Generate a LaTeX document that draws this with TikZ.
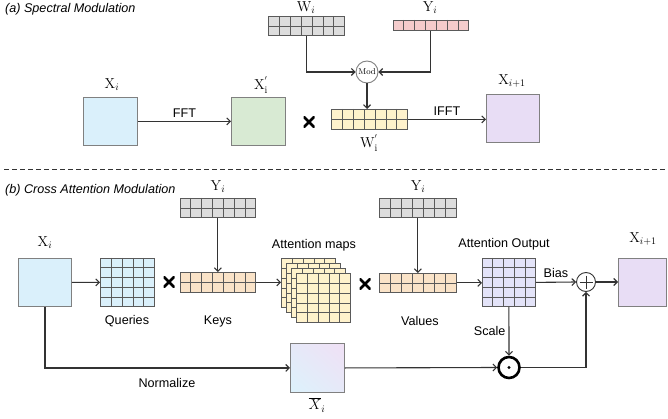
\documentclass[tikz,border=0pt]{standalone}
\usepackage{fontspec}
\newfontfamily\sansf{Liberation Sans}
\usetikzlibrary{calc,arrows.meta,shadings}
\definecolor{xblue}{HTML}{DAF0FB}
\definecolor{xgreen}{HTML}{D8EAD3}
\definecolor{xpurple}{HTML}{E8DDF5}
\definecolor{wgray}{HTML}{DDDDDD}
\definecolor{ypink}{HTML}{F4CCCC}
\definecolor{wyellow}{HTML}{FFF2CC}
\definecolor{peach}{HTML}{FAE3C8}
\definecolor{aolav}{HTML}{E3E3F8}
\definecolor{boxgray}{HTML}{808080}
\definecolor{cellline}{HTML}{5A5A5A}
\definecolor{linec}{HTML}{333333}
\definecolor{gbl1}{HTML}{DCF2FC}
\definecolor{gbl2}{HTML}{F0E0F5}
\definecolor{gblm}{HTML}{E6E9F8}
\tikzset{
  lbl/.style={font=\sansf\fontsize{12.6}{14}\selectfont, inner sep=1pt},
  ttl/.style={font=\sansf\itshape\fontsize{12.6}{14}\selectfont, anchor=west, inner sep=0pt},
  mlbl/.style={font=\fontsize{14.4}{16}\selectfont, inner sep=1pt},
  box/.style={draw=boxgray, line width=0.9pt, minimum width=54pt, minimum height=48pt, inner sep=0pt, anchor=north west},
  gb/.style={draw=cellline, line width=0.8pt, inner sep=0pt},
  gbl/.style={draw=cellline, line width=0.7pt},
  conn/.style={draw=linec, line width=1.1pt, -{Straight Barb[length=3.5pt,width=7pt]}},
  plainline/.style={draw=linec, line width=1.1pt},
  crossm/.style={minimum size=11pt, inner sep=0pt,
    path picture={\draw[line width=2.6pt,line cap=butt] (path picture bounding box.north west) -- (path picture bounding box.south east) (path picture bounding box.south west) -- (path picture bounding box.north east);}},
}
\newcommand\gridbox[8]{%
  \node[gb,fill=#8,minimum width=#4pt,minimum height=#5pt,anchor=north west] (#1) at (#2,#3) {};
  \pgfmathtruncatemacro\gbc{#6-1}%
  \foreach \k in {1,...,\gbc}{\draw[gbl] ($(#1.north west)!\k/#6!(#1.north east)$) -- ($(#1.south west)!\k/#6!(#1.south east)$);}%
  \ifnum#7>1 \pgfmathtruncatemacro\gbr{#7-1}%
  \foreach \k in {1,...,\gbr}{\draw[gbl] ($(#1.north west)!\k/#7!(#1.south west)$) -- ($(#1.north east)!\k/#7!(#1.south east)$);}\fi
}
\begin{document}
\begin{tikzpicture}[x=1pt,y=-1pt]
\useasboundingbox (0,0) rectangle (668,419);

% ---------------- (a) ----------------
\node[ttl] (ta) at (5,9) {(a) Spectral Modulation};

\node[box,fill=xblue] (xa) at (83,97) {};
\node[box,fill=xgreen] (xpa) at (231,97) {};
\node[box,fill=xpurple,minimum width=53pt] (xoa) at (486,94) {};
\node[mlbl] (lxa) at (112,85) {$\mathrm{X}_i$};
\node[mlbl] (lxpa) at (261,85) {$\mathrm{X}^{'}_{\mathrm{i}}$};
\node[mlbl] (lxoa) at (512,81) {$\mathrm{X}_{i+1}$};

\gridbox{wa}{268}{16}{76}{19}{7}{2}{wgray}
\gridbox{ya}{393}{20}{75}{10}{7}{1}{ypink}
\gridbox{wpa}{331}{109}{76}{20}{7}{2}{wyellow}
\node[mlbl,inner sep=0pt] (lwa) at (306,7.5) {$\mathrm{W}_i$};
\node[mlbl,inner sep=0pt] (lya) at (430,7.5) {$\mathrm{Y}_i$};
\node[mlbl] (lwpa) at (369,143) {$\mathrm{W}^{'}_{\mathrm{i}}$};

\node[circle,draw=boxgray,line width=0.9pt,fill=white,minimum size=22pt,inner sep=0pt,font=\fontsize{8.5}{9}\selectfont] (mod) at (367,72) {Mod};
\draw[conn] (wa.south) |- (mod.west);
\draw[conn] (ya.south) |- (mod.east);
\draw[conn] (mod.south) -- (mod.south |- wpa.north);

\draw[conn] (xa.east) -- (xpa.west) node[lbl,midway,above=2pt] (lfft) {FFT};
\draw[conn] (wpa.east) -- (xoa.west |- wpa.east) node[lbl,midway,above=2pt] (lifft) {IFFT};
\node[crossm] (cxa) at (309,122) {};

% separator
\coordinate (d1) at (4,170);
\coordinate (d2) at (668,170);
\draw[linec,line width=1pt,dash pattern=on 5pt off 3pt] (d1) -- (d2);

% ---------------- (b) ----------------
\node[ttl] (tb) at (5,190) {(b) Cross Attention Modulation};

\node[box,fill=xblue,minimum width=53pt] (xb) at (18,258) {};
\node[mlbl] (lxb) at (45,243) {$\mathrm{X}_i$};

\gridbox{q}{100}{258}{54}{48}{5}{5}{xblue}
\node[lbl] (lq) at (127,321) {Queries};
\node[crossm] (cb1) at (169,282) {};

\gridbox{y1}{180}{198}{75}{19}{7}{2}{wgray}
\node[mlbl] (ly1) at (218,187) {$\mathrm{Y}_i$};
\gridbox{k}{180}{272}{75}{20}{7}{2}{peach}
\node[lbl] (lk) at (218,321) {Keys};

\gridbox{m1}{281}{258}{54}{49}{5}{5}{wyellow}
\gridbox{m2}{286}{263}{54}{49}{5}{5}{wyellow}
\gridbox{m3}{291}{268}{54}{49}{5}{5}{wyellow}
\gridbox{m4}{296}{273}{54}{49}{5}{5}{wyellow}
\node[lbl] (lm) at (314,245) {Attention maps};

\node[crossm] (cb2) at (365,284) {};
\gridbox{y2}{379}{198}{77}{19}{7}{2}{wgray}
\node[mlbl] (ly2) at (418,187) {$\mathrm{Y}_i$};
\gridbox{v}{379}{273}{77}{19}{7}{2}{peach}
\node[lbl] (lv) at (420,321) {Values};

\gridbox{ao}{482}{258}{53}{48}{5}{5}{aolav}
\node[lbl] (lao) at (504,244) {Attention Output};

\node[circle,draw=linec,line width=0.9pt,fill=white,minimum size=19pt,inner sep=0pt] (pl) at (586,282) {};
\draw[linec,line width=0.8pt] ($(pl.center)+(-6.5,0)$) -- ($(pl.center)+(6.5,0)$);
\draw[linec,line width=0.8pt] ($(pl.center)+(0,-6.5)$) -- ($(pl.center)+(0,6.5)$);

\node[box,fill=xpurple,minimum width=48pt] (xob) at (618,258) {};
\node[mlbl] (lxob) at (643,239) {$\mathrm{X}_{i+1}$};

\node[box,lower left=gbl1,upper right=gbl2,lower right=gblm,upper left=gblm,minimum height=49pt] (xbar) at (290,343) {};
\node[mlbl] (lxbar) at (317,405) {$\overline{X}_i$};

\node[circle,draw=black,line width=2.6pt,fill=white,minimum size=21pt,inner sep=0pt] (od) at (509,367.5) {};
\fill[black] (od.center) circle (1.7pt);

\draw[conn] (xb.east) -- (q.west);
\draw[conn] (y1.south) -- (k.north);
\draw[conn] (k.east) -- (m1.west |- k.east);
\draw[conn] (y2.south) -- (v.north);
\draw[conn] (v.east) -- (ao.west |- v.east);
\draw[conn] (ao.east) -- (pl.west) node[lbl,midway,above=3pt] (lbias) {Bias};
\draw[conn] (pl.east) -- (xob.west |- pl.east);
\draw[conn] (ao.south) -- (od.north) node[lbl,pos=0.5,left=2pt] (lscale) {Scale};
\draw[conn] (xb.south) |- (xbar.west);
\draw[conn] (xbar.east) -- (od.west);
\draw[conn] (od.east) -| (pl.south);
\node[lbl] (lnorm) at (167,383) {Normalize};
\end{tikzpicture}
\end{document}
